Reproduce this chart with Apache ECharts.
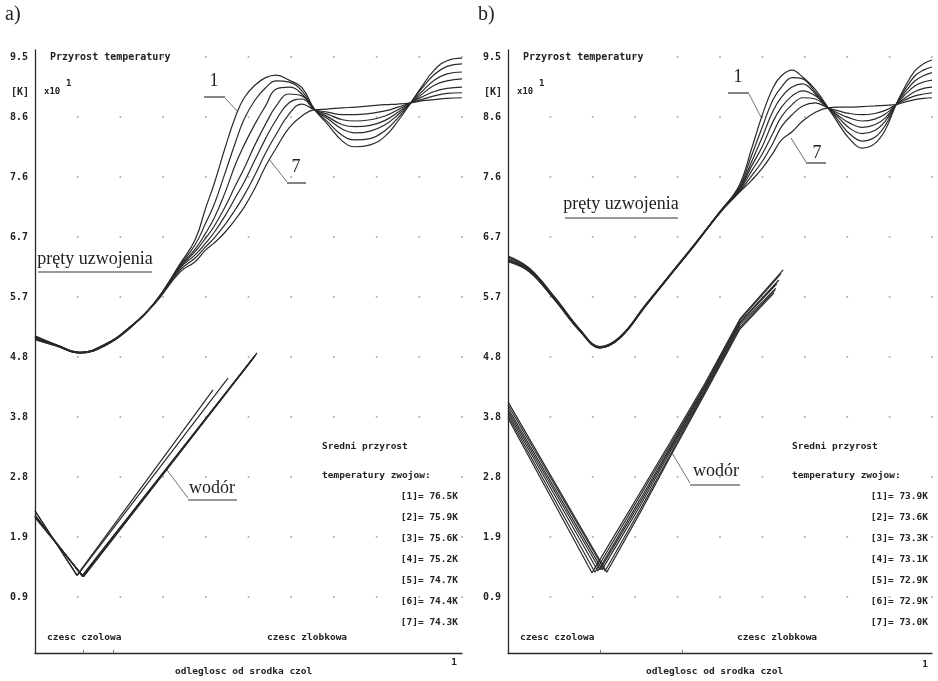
<!DOCTYPE html>
<html><head><meta charset="utf-8">
<script src="https://cdn.jsdelivr.net/npm/echarts@6/dist/echarts.min.js"></script>
<style>html,body{margin:0;padding:0;background:#fff}#c{width:938px;height:681px}</style>
</head><body><div id="c"></div>
<script>
// ---- axis ticks ----
const yStep = 0.955;
const yTickLabels = ['0.9','1.9','2.8','3.8','4.8','5.7','6.7','7.6','8.6','9.5'];
const xDotValues = [0.1,0.2,0.3,0.4,0.5,0.6,0.7,0.8,0.9,1.0];

// ---- panel a: prety uzwojenia (curves 1..7) ----
const pretyA_x = [0,0.05,0.105,0.165,0.22,0.28,0.34,0.375,0.4,0.42,0.445,0.47,0.49,0.515,0.54,0.565,0.595,0.625,0.655,0.685,0.72,0.75,0.785,0.82,0.85,0.88,0.905,0.935,0.965,1.0];
const pretyA1 = [5.11,4.97,4.85,4.98,5.24,5.64,6.26,6.64,7.15,7.54,8.10,8.61,8.90,9.10,9.22,9.26,9.18,9.06,8.71,8.48,8.21,8.12,8.15,8.29,8.53,8.82,9.07,9.34,9.49,9.53];
const pretyA2 = [5.10,4.97,4.85,4.98,5.24,5.64,6.24,6.56,6.91,7.21,7.70,8.20,8.56,8.86,9.06,9.17,9.15,9.01,8.71,8.52,8.30,8.23,8.25,8.38,8.58,8.82,9.04,9.27,9.40,9.44];
const pretyA3 = [5.09,4.96,4.85,4.97,5.23,5.63,6.22,6.49,6.75,6.99,7.39,7.85,8.15,8.48,8.77,9.04,9.07,8.96,8.71,8.57,8.40,8.34,8.37,8.47,8.63,8.82,8.99,9.18,9.28,9.31];
const pretyA4 = [5.08,4.96,4.84,4.97,5.23,5.63,6.21,6.45,6.67,6.86,7.16,7.51,7.78,8.15,8.48,8.77,8.96,8.93,8.71,8.60,8.47,8.44,8.46,8.54,8.67,8.82,8.95,9.10,9.17,9.20];
const pretyA5 = [5.07,4.96,4.84,4.97,5.23,5.63,6.19,6.40,6.59,6.76,7.02,7.32,7.56,7.91,8.25,8.55,8.82,8.88,8.71,8.64,8.55,8.53,8.55,8.61,8.71,8.82,8.91,9.00,9.05,9.07];
const pretyA6 = [5.06,4.95,4.84,4.96,5.22,5.62,6.16,6.35,6.53,6.67,6.88,7.13,7.35,7.67,8.02,8.32,8.64,8.80,8.71,8.67,8.63,8.63,8.65,8.69,8.75,8.82,8.87,8.93,8.97,8.98];
const pretyA7 = [5.05,4.95,4.84,4.96,5.22,5.62,6.13,6.29,6.48,6.59,6.76,6.97,7.16,7.46,7.81,8.10,8.42,8.61,8.71,8.72,8.74,8.75,8.77,8.79,8.80,8.82,8.85,8.87,8.89,8.90];

// ---- panel a: wodor (x, value) ----
const wodorA1 = [[0,2.33],[0.098,1.30],[0.417,4.25]];
const wodorA2 = [[0,2.32],[0.099,1.30],[0.452,4.44]];
const wodorA3 = [[0,2.26],[0.110,1.29],[0.52,4.84]];
const wodorA4 = [[0,2.25],[0.111,1.29],[0.518,4.82]];
const wodorA5 = [[0,2.24],[0.112,1.28],[0.516,4.80]];
const wodorA6 = [[0,2.23],[0.113,1.28],[0.514,4.78]];
const wodorA7 = [[0,2.22],[0.114,1.28],[0.512,4.76]];

// ---- panel b: prety uzwojenia ----
const pretyB_x = [0,0.05,0.11,0.17,0.217,0.265,0.325,0.38,0.44,0.5,0.545,0.575,0.6,0.625,0.645,0.67,0.695,0.725,0.755,0.78,0.805,0.835,0.865,0.89,0.915,0.935,0.96,0.98,1.0];
const pretyB1 = [6.38,6.19,5.73,5.21,4.94,5.10,5.61,6.07,6.57,7.09,7.50,8.10,8.63,9.06,9.25,9.34,9.23,9.03,8.74,8.48,8.25,8.10,8.17,8.39,8.79,9.06,9.33,9.44,9.50];
const pretyB2 = [6.37,6.18,5.72,5.21,4.93,5.10,5.61,6.07,6.57,7.09,7.47,7.99,8.44,8.87,9.07,9.22,9.20,8.99,8.74,8.53,8.33,8.21,8.27,8.46,8.79,9.02,9.25,9.34,9.39];
const pretyB3 = [6.35,6.17,5.71,5.20,4.93,5.09,5.60,6.06,6.56,7.08,7.45,7.89,8.28,8.69,8.91,9.07,9.12,8.96,8.74,8.58,8.42,8.33,8.38,8.53,8.79,8.98,9.17,9.25,9.30];
const pretyB4 = [6.33,6.16,5.71,5.20,4.93,5.09,5.60,6.06,6.56,7.08,7.43,7.82,8.13,8.52,8.75,8.93,9.01,8.93,8.74,8.61,8.50,8.43,8.47,8.58,8.79,8.94,9.09,9.15,9.18];
const pretyB5 = [6.32,6.15,5.70,5.19,4.92,5.09,5.60,6.06,6.56,7.08,7.42,7.74,8.01,8.34,8.60,8.79,8.90,8.88,8.74,8.65,8.58,8.53,8.56,8.64,8.79,8.89,9.00,9.05,9.07];
const pretyB6 = [6.30,6.14,5.69,5.19,4.92,5.08,5.59,6.05,6.55,7.07,7.40,7.66,7.89,8.18,8.44,8.63,8.77,8.82,8.74,8.69,8.65,8.63,8.65,8.70,8.79,8.86,8.93,8.96,8.98];
const pretyB7 = [6.29,6.13,5.68,5.18,4.92,5.08,5.59,6.05,6.55,7.07,7.39,7.59,7.78,8.02,8.23,8.36,8.53,8.67,8.74,8.75,8.75,8.76,8.77,8.78,8.79,8.83,8.87,8.89,8.90];

// ---- panel b: wodor ----
const wodorB1 = [[0,3.80],[0.198,1.34],[0.311,2.61],[0.382,3.41],[0.465,4.36],[0.547,5.38],[0.649,6.16]];
const wodorB2 = [[0,3.84],[0.205,1.35],[0.311,2.56],[0.382,3.37],[0.465,4.33],[0.547,5.36],[0.644,6.10]];
const wodorB3 = [[0,3.88],[0.212,1.37],[0.311,2.50],[0.382,3.33],[0.465,4.31],[0.547,5.33],[0.639,6.00]];
const wodorB4 = [[0,3.92],[0.217,1.39],[0.311,2.45],[0.382,3.30],[0.465,4.28],[0.547,5.32],[0.634,5.94]];
const wodorB5 = [[0,3.96],[0.222,1.39],[0.311,2.40],[0.382,3.26],[0.465,4.25],[0.547,5.29],[0.632,5.87]];
const wodorB6 = [[0,4.01],[0.229,1.37],[0.311,2.34],[0.382,3.21],[0.465,4.23],[0.547,5.25],[0.630,5.84]];
const wodorB7 = [[0,4.06],[0.233,1.35],[0.311,2.29],[0.382,3.18],[0.465,4.20],[0.547,5.22],[0.627,5.79]];

// ---- mean temperature rise texts ----
const meanA = ['76.5','75.9','75.6','75.2','74.7','74.4','74.3'];
const meanB = ['73.9','73.6','73.3','73.1','72.9','72.9','73.0'];

// ---------------------------------------------
const yTickValues = yTickLabels.map((_, i) => +((i + 1) * yStep).toFixed(4));
const INK = '#2a2a2a';
const MONO = '"DejaVu Sans Mono", monospace';

function mkX(gi, ticks) {
  return { type:'value', gridIndex:gi, min:0, max:1,
    axisLine:{show:true, onZero:false, lineStyle:{color:INK, width:1.3}},
    axisTick:{show:true, inside:true, length:3, customValues:ticks, lineStyle:{color:'#777'}},
    axisLabel:{show:false}, splitLine:{show:false} };
}
function mkY(gi) {
  return { type:'value', gridIndex:gi, min:0.064, max:9.66,
    axisLine:{show:true, onZero:false, lineStyle:{color:INK, width:1.3}},
    axisTick:{show:false}, splitLine:{show:false},
    axisLabel:{ customValues:yTickValues, margin:7, color:'#222',
      fontFamily:MONO, fontWeight:'bold', fontSize:10,
      formatter: v => yTickLabels[Math.round(v / yStep) - 1] || '' } };
}
function lineSeries(gi, data, smooth) {
  return { type:'line', xAxisIndex:gi, yAxisIndex:gi, data, smooth,
    symbol:'none', silent:true, lineStyle:{color:INK, width:1.2}, z:5 };
}
const dots = [];
xDotValues.forEach(x => yTickValues.forEach(y => dots.push([x, y])));
function dotSeries(gi) {
  return { type:'scatter', xAxisIndex:gi, yAxisIndex:gi, data:dots, symbolSize:2,
    silent:true, itemStyle:{color:'#999'}, z:1 };
}

const series = [dotSeries(0), dotSeries(1)];
[pretyA1,pretyA2,pretyA3,pretyA4,pretyA5,pretyA6,pretyA7].forEach(ys =>
  series.push(lineSeries(0, pretyA_x.map((x,i)=>[x, ys[i]]), 0.45)));
[wodorA1,wodorA2,wodorA3,wodorA4,wodorA5,wodorA6,wodorA7].forEach(d =>
  series.push(lineSeries(0, d, false)));
[pretyB1,pretyB2,pretyB3,pretyB4,pretyB5,pretyB6,pretyB7].forEach(ys =>
  series.push(lineSeries(1, pretyB_x.map((x,i)=>[x, ys[i]]), 0.4)));
[wodorB1,wodorB2,wodorB3,wodorB4,wodorB5,wodorB6,wodorB7].forEach(d =>
  series.push(lineSeries(1, d, false)));

function T(x, y, text, font, align, va) {
  return { type:'text', silent:true, z:100,
    style:{ x, y, text, font, fill:'#222', textAlign:align||'left', textVerticalAlign:va||'middle' } };
}
function L(x1, y1, x2, y2, w) {
  return { type:'line', silent:true, z:100, shape:{x1,y1,x2,y2},
    style:{ stroke:'#333', lineWidth:w||1 } };
}
const M = 'bold 10px ' + MONO;
const MS = 'bold 9.5px ' + MONO;
const SER = '18px "Liberation Serif", "Times New Roman", serif';
const g = [];
function panelText(o, L0, meanVals, legRight, legLeft) {
  g.push(T(o + 5, 15, o === 0 ? 'a)' : 'b)', '20px "Liberation Serif", serif'));
  g.push(T(L0 + 15, 57, 'Przyrost temperatury', M));
  g.push(T(L0 - 24, 92, '[K]', M));
  g.push(T(L0 + 9, 92, 'x10', 'bold 9px ' + MONO));
  g.push(T(L0 + 31, 84, '1', 'bold 9px ' + MONO));
  g.push(T(legLeft, 447, 'Sredni przyrost', MS));
  g.push(T(legLeft, 476, 'temperatury zwojow:', MS));
  meanVals.forEach((v, i) => g.push(T(legRight, 497 + 21 * i, '[' + (i + 1) + ']= ' + v + 'K', MS, 'right')));
}
panelText(0, 35, meanA, 458, 322);
panelText(473, 508, meanB, 928, 792);
// bottom texts panel a
g.push(T(47, 638, 'czesc czolowa', MS));
g.push(T(267, 638, 'czesc zlobkowa', MS));
g.push(T(175, 672, 'odleglosc od srodka czol', MS));
g.push(T(454, 663, '1', MS, 'center'));
// bottom texts panel b
g.push(T(520, 638, 'czesc czolowa', MS));
g.push(T(737, 638, 'czesc zlobkowa', MS));
g.push(T(646, 672, 'odleglosc od srodka czol', MS));
g.push(T(925, 665, '1', MS, 'center'));
// annotations panel a
g.push(T(95, 259, 'pręty uzwojenia', SER, 'center'));
g.push(L(38, 272, 152, 272, 1.2));
g.push(T(214, 81, '1', SER, 'center'));
g.push(L(204, 97, 225, 97, 1.2));
g.push(L(225, 98, 238, 112, 0.7));
g.push(T(296, 167, '7', SER, 'center'));
g.push(L(287, 183, 306, 183, 1.2));
g.push(L(287, 182, 269, 159, 0.7));
g.push(T(212, 488, 'wodór', SER, 'center'));
g.push(L(188, 500, 237, 500, 1.2));
g.push(L(188, 498, 167, 470, 0.7));
// annotations panel b
g.push(T(621, 204, 'pręty uzwojenia', SER, 'center'));
g.push(L(565, 218, 678, 218, 1.2));
g.push(T(738, 77, '1', SER, 'center'));
g.push(L(728, 93, 749, 93, 1.2));
g.push(L(749, 94, 761, 117, 0.7));
g.push(T(817, 153, '7', SER, 'center'));
g.push(L(806, 163, 826, 163, 1.2));
g.push(L(806, 162, 791, 138, 0.7));
g.push(T(716, 471, 'wodór', SER, 'center'));
g.push(L(690, 485, 740, 485, 1.2));
g.push(L(690, 483, 672, 453, 0.7));

const chart = echarts.init(document.getElementById('c'), null, {renderer:'canvas'});
chart.setOption({
  animation:false,
  backgroundColor:'#ffffff',
  grid:[{left:35, right:476, top:50, bottom:28}, {left:508, right:6, top:50, bottom:28}],
  xAxis:[mkX(0, [0.112, 0.183]), mkX(1, [0.217, 0.41])],
  yAxis:[mkY(0), mkY(1)],
  series,
  graphic:{ elements:g }
});
</script></body></html>
